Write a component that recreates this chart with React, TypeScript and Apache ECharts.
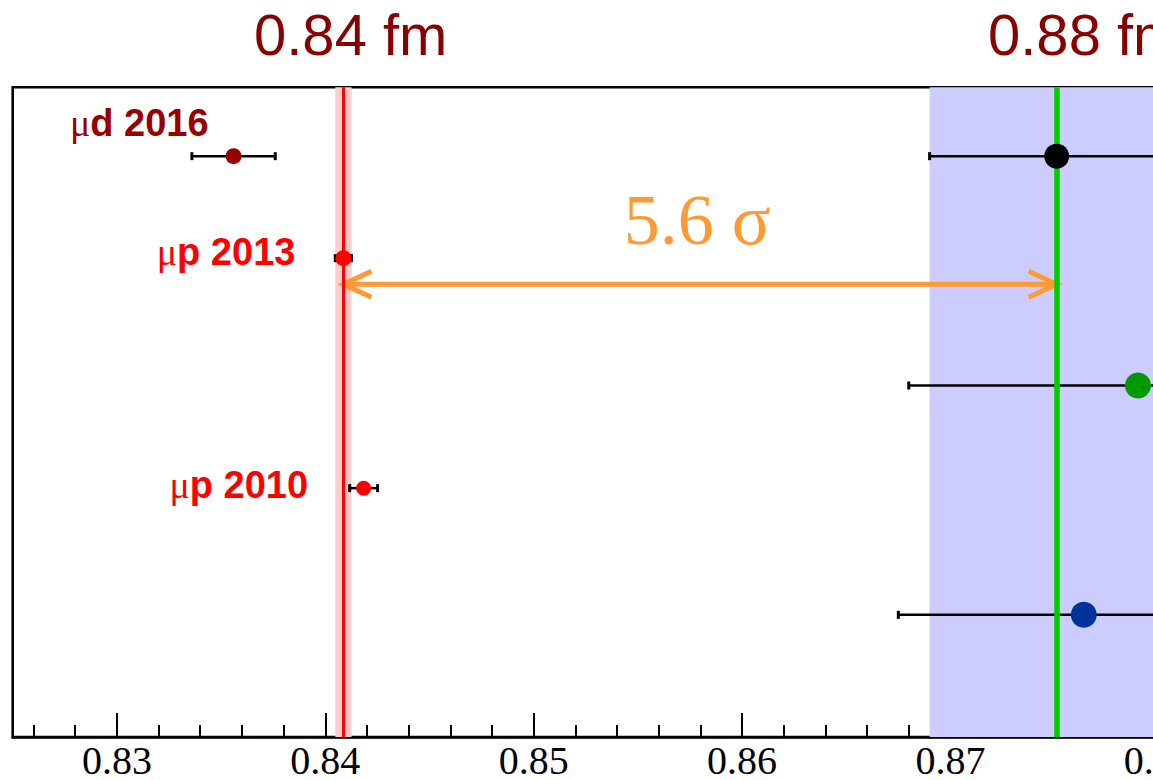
import React, { useEffect, useRef } from "react";
import * as echarts from "echarts";

// ---- data ----
const names = ["μd 2016", "μp 2013", "μp 2010", "CODATA 2014", "e-p scattering", "H spectroscopy"];
const radii = [0.8356, 0.84087, 0.84184, 0.8751, 0.879, 0.8764];
const uncertainties = [0.002, 0.00039, 0.00067, 0.0061, 0.011, 0.0089];
const rows = [89.4, 73.7, 38.3, 89.4, 54.1, 18.8];
const headlines = ["0.84 fm", "0.88 fm"];
const sigmaText = "5.6 σ";
const arrowRow = 69.7;
const muonicRef = 1; // index of the μp 2013 band/line
const codataRef = 3; // index of the CODATA band/line

// ---- styles ----
const pointColors = ["#990000", "#ff0000", "#ff0000", "#000000", "#009900", "#003399"];
const pointSizes = [16, 16, 15, 25, 26, 26];
const labelShown = [true, true, true, false, false, false];
const labelDistance = [17, 40, 48, 0, 0, 0];
const labelDy = [-33, -6, -3, 0, 0, 0];

export default function App() {
  const ref = useRef<HTMLDivElement>(null);
  useEffect(() => {
    if (!ref.current) return;
    const chart = echarts.init(ref.current, null, { renderer: "svg" });
    const errData = names.map((n, i) => [radii[i], rows[i], uncertainties[i]]);
    const pointData = names.map((n, i) => ({
      name: n,
      value: [radii[i], rows[i]],
      symbolSize: pointSizes[i],
      itemStyle: { color: pointColors[i], opacity: 1 },
      label: {
        show: labelShown[i],
        position: "left",
        distance: labelDistance[i],
        offset: [0, labelDy[i]],
        opacity: 1,
        formatter: () => `{m|${n.slice(0, 1)}}{b|${n.slice(1)}}`,
        rich: {
          m: { fontFamily: "Liberation Serif", fontSize: 38, color: pointColors[i] },
          b: { fontFamily: "Liberation Sans", fontWeight: "bold", fontSize: 38, color: pointColors[i] },
        },
      },
    }));
    const option: any = {
      animation: false,
      backgroundColor: "#ffffff",
      grid: {
        left: 12.7,
        right: 0.85,
        top: 87.3,
        bottom: 40.7,
        show: true,
        borderColor: "#000",
        borderWidth: 2.6,
        backgroundColor: "transparent",
      },
      xAxis: {
        type: "value",
        min: 0.825,
        max: 0.885,
        splitNumber: 6,
        axisLine: { show: true, lineStyle: { color: "#000", width: 2.6 } },
        axisTick: { show: true, inside: true, length: 24, lineStyle: { color: "#000", width: 2 } },
        minorTick: { show: true, splitNumber: 5, length: 12, lineStyle: { color: "#000", width: 2 } },
        splitLine: { show: false },
        axisLabel: {
          margin: 3,
          fontFamily: "Liberation Serif",
          fontSize: 40,
          color: "#000",
          formatter: (v: number) =>
            Math.abs(v * 100 - Math.round(v * 100)) < 1e-6 ? v.toFixed(2) : "",
        },
      },
      yAxis: {
        type: "value",
        min: 0,
        max: 100,
        axisLine: { show: false },
        axisTick: { show: false },
        axisLabel: { show: false },
        splitLine: { show: false },
      },
      graphic: [
        {
          type: "text",
          x: 254,
          y: 34,
          style: {
            text: headlines[0],
            fontFamily: "Liberation Sans",
            fontSize: 58,
            fill: "#880000",
            align: "left",
            verticalAlign: "middle",
          },
        },
        {
          type: "text",
          x: 988,
          y: 34,
          style: {
            text: headlines[1],
            fontFamily: "Liberation Sans",
            fontSize: 58,
            fill: "#880000",
            align: "left",
            verticalAlign: "middle",
          },
        },
      ],
      series: [
        {
          type: "scatter",
          data: [],
          z: 1,
          silent: true,
          markArea: {
            silent: true,
            data: [
              [
                { xAxis: radii[muonicRef] - uncertainties[muonicRef], itemStyle: { color: "#ffcccc", opacity: 1 } },
                { xAxis: radii[muonicRef] + uncertainties[muonicRef] },
              ],
              [
                { xAxis: radii[codataRef] - uncertainties[codataRef], itemStyle: { color: "#ccccff", opacity: 1 } },
                { xAxis: radii[codataRef] + uncertainties[codataRef] },
              ],
            ],
          },
          markLine: {
            silent: true,
            symbol: "none",
            precision: 6,
            label: { show: false },
            data: [
              { xAxis: radii[muonicRef], lineStyle: { color: "#ff0000", width: 3, type: "solid", opacity: 1 } },
              { xAxis: radii[codataRef], lineStyle: { color: "#00cc00", width: 5.5, type: "solid", opacity: 1 } },
            ],
          },
        },
        {
          type: "custom",
          z: 3,
          silent: true,
          data: errData,
          encode: { x: [0], y: 1 },
          renderItem: (params: any, api: any) => {
            const x = api.value(0);
            const y = api.value(1);
            const e = api.value(2);
            const pl = api.coord([x - e, y]);
            const pr = api.coord([x + e, y]);
            const h = 4;
            const st = { stroke: "#000", lineWidth: 2.5 };
            return {
              type: "group",
              children: [
                { type: "line", shape: { x1: pl[0], y1: pl[1], x2: pr[0], y2: pr[1] }, style: st },
                { type: "line", shape: { x1: pl[0], y1: pl[1] - h, x2: pl[0], y2: pl[1] + h }, style: { stroke: "#000", lineWidth: 3 } },
                { type: "line", shape: { x1: pr[0], y1: pr[1] - h, x2: pr[0], y2: pr[1] + h }, style: { stroke: "#000", lineWidth: 3 } },
              ],
            };
          },
        },
        {
          type: "custom",
          z: 4,
          silent: true,
          data: [[radii[muonicRef], arrowRow, radii[codataRef]]],
          encode: { x: [0, 2], y: 1 },
          renderItem: (params: any, api: any) => {
            const y = api.value(1);
            const p1 = api.coord([api.value(0), y]);
            const p2 = api.coord([api.value(2), y]);
            const c = "#ff9933";
            const ax = 28;
            const ay = 13;
            const st = { stroke: c, lineWidth: 5, fill: "none", lineJoin: "miter" };
            return {
              type: "group",
              children: [
                { type: "line", shape: { x1: p1[0] + 3, y1: p1[1], x2: p2[0] - 3, y2: p2[1] }, style: { stroke: c, lineWidth: 5 } },
                { type: "polyline", shape: { points: [[p1[0] + ax, p1[1] - ay], [p1[0], p1[1]], [p1[0] + ax, p1[1] + ay]] }, style: st },
                { type: "polyline", shape: { points: [[p2[0] - ax, p2[1] - ay], [p2[0], p2[1]], [p2[0] - ax, p2[1] + ay]] }, style: st },
                {
                  type: "text",
                  x: (p1[0] + p2[0]) / 2 - 3,
                  y: p1[1] - 64,
                  style: {
                    text: sigmaText,
                    fontFamily: "Liberation Serif",
                    fontSize: 72,
                    fill: c,
                    align: "center",
                    verticalAlign: "middle",
                  },
                },
              ],
            };
          },
        },
        {
          type: "scatter",
          z: 5,
          silent: true,
          symbol: "circle",
          itemStyle: { opacity: 1 },
          data: pointData,
        },
      ],
    };
    chart.setOption(option);
    return () => chart.dispose();
  }, []);
  return (
    <div
      style={{
        position: "fixed",
        left: 0,
        top: 0,
        width: 1153,
        height: 780,
        overflow: "hidden",
        background: "#fff",
      }}
    >
      <div ref={ref} style={{ width: 1266, height: 780 }} />
    </div>
  );
}
